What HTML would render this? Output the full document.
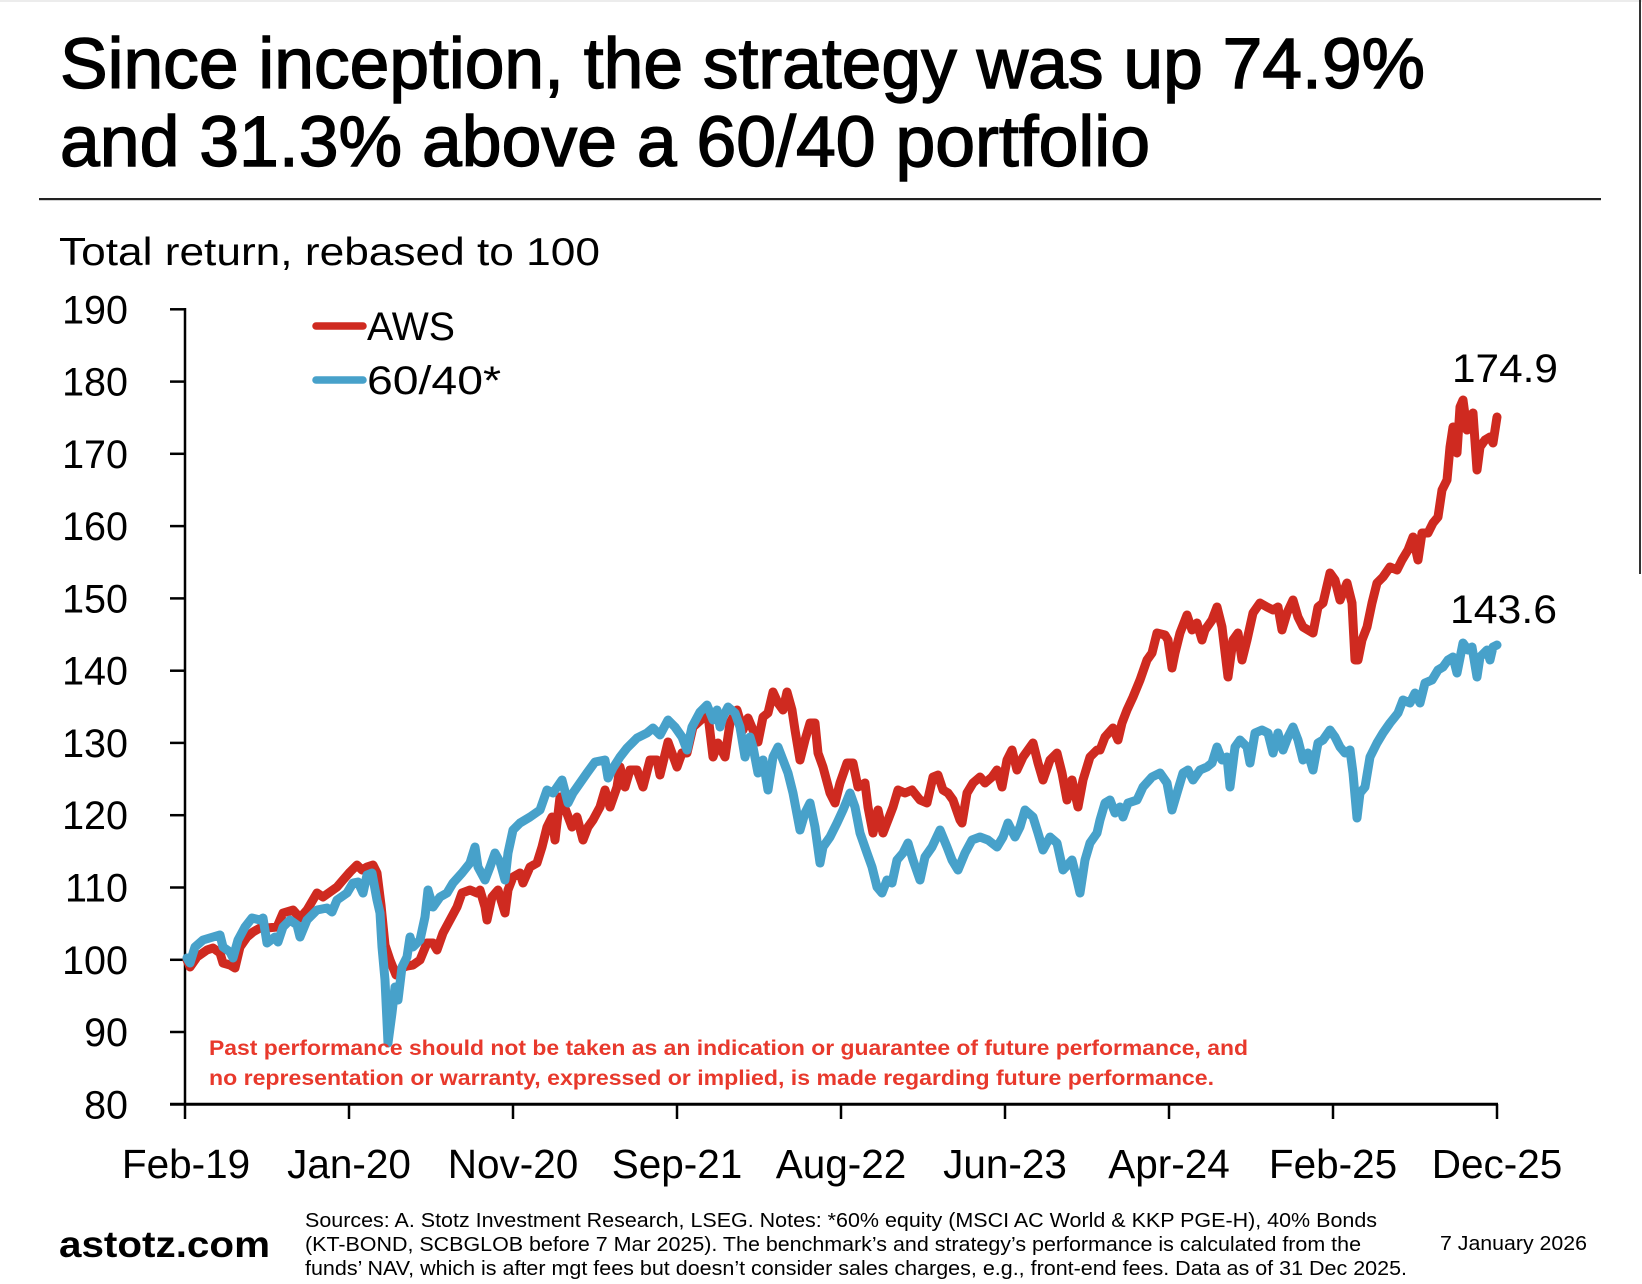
<!DOCTYPE html>
<html>
<head>
<meta charset="utf-8">
<style>
html,body{margin:0;padding:0;background:#fff;}
body{width:1642px;height:1284px;overflow:hidden;}
svg{display:block;}
</style>
</head>
<body>
<svg width="1642" height="1284" viewBox="0 0 1642 1284" xmlns="http://www.w3.org/2000/svg">
<rect x="0" y="0" width="1642" height="1284" fill="#ffffff"/>
<rect x="0" y="0" width="1642" height="2" fill="#ececec"/>
<rect x="1639" y="0" width="2" height="574" fill="#333"/>

<!-- Title -->
<g font-family="'Liberation Sans', Arial, sans-serif" font-size="71" fill="#000" stroke="#000" stroke-width="1.4">
<text x="60" y="88" textLength="1365" lengthAdjust="spacingAndGlyphs">Since inception, the strategy was up 74.9%</text>
<text x="60" y="166" textLength="1090" lengthAdjust="spacingAndGlyphs">and 31.3% above a 60/40 portfolio</text>
</g>
<rect x="39" y="198" width="1562" height="2.2" fill="#222"/>

<text x="59" y="265" font-family="'Liberation Sans', Arial, sans-serif" font-size="39" textLength="541" lengthAdjust="spacingAndGlyphs" fill="#000">Total return, rebased to 100</text>

<!-- Y axis -->
<g stroke="#000" stroke-width="2.5" fill="none">
<line x1="185" y1="308" x2="185" y2="1105"/>
<line x1="170" y1="309.3" x2="185" y2="309.3"/>
<line x1="170" y1="381.6" x2="185" y2="381.6"/>
<line x1="170" y1="453.8" x2="185" y2="453.8"/>
<line x1="170" y1="526.1" x2="185" y2="526.1"/>
<line x1="170" y1="598.4" x2="185" y2="598.4"/>
<line x1="170" y1="670.7" x2="185" y2="670.7"/>
<line x1="170" y1="742.9" x2="185" y2="742.9"/>
<line x1="170" y1="815.2" x2="185" y2="815.2"/>
<line x1="170" y1="887.5" x2="185" y2="887.5"/>
<line x1="170" y1="959.8" x2="185" y2="959.8"/>
<line x1="170" y1="1032" x2="185" y2="1032"/>
</g>
<g font-family="'Liberation Sans', Arial, sans-serif" font-size="39.5" fill="#000" text-anchor="end">
<text x="128" y="323.3">190</text>
<text x="128" y="395.6">180</text>
<text x="128" y="467.8">170</text>
<text x="128" y="540.1">160</text>
<text x="128" y="612.4">150</text>
<text x="128" y="684.7">140</text>
<text x="128" y="756.9">130</text>
<text x="128" y="829.2">120</text>
<text x="128" y="901.5">110</text>
<text x="128" y="973.8">100</text>
<text x="128" y="1046">90</text>
<text x="128" y="1118.3">80</text>
</g>

<!-- X axis -->
<g stroke="#000" stroke-width="3" fill="none">
<line x1="170" y1="1104.3" x2="1498" y2="1104.3"/>
</g>
<g stroke="#000" stroke-width="2.5" fill="none">
<line x1="185" y1="1104" x2="185" y2="1119"/>
<line x1="349" y1="1104" x2="349" y2="1119"/>
<line x1="513" y1="1104" x2="513" y2="1119"/>
<line x1="677" y1="1104" x2="677" y2="1119"/>
<line x1="841" y1="1104" x2="841" y2="1119"/>
<line x1="1005" y1="1104" x2="1005" y2="1119"/>
<line x1="1169" y1="1104" x2="1169" y2="1119"/>
<line x1="1333" y1="1104" x2="1333" y2="1119"/>
<line x1="1497" y1="1104" x2="1497" y2="1119"/>
</g>
<g font-family="'Liberation Sans', Arial, sans-serif" font-size="40.5" fill="#000" text-anchor="middle">
<text x="186" y="1178">Feb-19</text>
<text x="349" y="1178">Jan-20</text>
<text x="513" y="1178">Nov-20</text>
<text x="677" y="1178">Sep-21</text>
<text x="841" y="1178">Aug-22</text>
<text x="1005" y="1178">Jun-23</text>
<text x="1169" y="1178">Apr-24</text>
<text x="1333" y="1178">Feb-25</text>
<text x="1497" y="1178">Dec-25</text>
</g>

<!-- Series -->
<polyline fill="none" stroke="#CF2A20" stroke-width="9" stroke-linejoin="round" stroke-linecap="round" points="
187,960 190,967 197,957 207,950 213,948 220,953 223,963 230,965 235,968 240,947 247,937 253,932 260,928 267,928 277,927 283,913 293,910 300,918 307,910 317,893 323,897 330,892 337,887 343,880 350,872 357,865 362,870 367,867 373,865 377,873 381,905 385,945 390,960 396,975 402,968 407,966 413,965 420,960 427,943 433,943 437,950 443,933 450,920 457,907 462,893 470,890 477,893 480,890 485,907 487,920 492,897 498,890 505,913 508,890 513,877 520,873 523,883 530,867 537,863 542,847 547,827 552,817 555,840 560,797 563,803 572,827 577,817 583,840 588,827 593,820 600,807 605,790 610,807 617,787
620,767 625,787 630,770 637,770 643,787 650,760 657,760 660,775 668,742 677,767 682,753 687,753 693,727 703,718 708,715 713,757 718,743 725,757 730,723 737,710 743,730 748,718 753,730 758,742 763,717 768,713 773,692 778,703 783,710 787,692 792,710 795,730 800,760 805,740 810,723 815,723 818,753 823,767 830,793 835,803 840,783 847,763 853,763 858,787 865,783 868,807 873,833 878,810 883,833 888,820 893,807 898,790 905,793 912,790 920,800 927,803 933,777 938,775 943,790 948,793 953,800 960,820 962,823 967,793 973,783 980,777 985,783 992,777 997,770 1002,787 1007,760 1012,750 1017,770 1023,757 1033,743 1038,763 1043,780 1050,760 1057,753 1062,773 1067,800 1072,780 1078,807 1083,780 1090,757 1097,750
1100,750 1105,737 1113,728 1118,740 1122,723 1127,710 1133,697 1140,680 1147,660 1152,653 1157,633 1165,635 1168,640 1172,668 1175,653 1180,633 1187,615 1192,630 1197,623 1202,640 1205,630 1212,620 1217,607 1222,627 1228,677 1233,640 1238,633 1242,660 1247,640 1253,613 1260,603 1267,607 1273,610 1278,607 1282,630 1287,613 1293,600 1298,617 1303,627 1308,630 1313,633 1318,607 1323,603 1330,573 1335,580 1340,600 1347,583 1352,603 1355,660 1358,660 1362,640 1367,627 1372,603 1377,583 1383,577 1390,567 1397,570 1402,560 1408,550 1413,537 1418,560 1422,533 1428,533 1433,523 1438,517 1442,490 1447,480 1450,447 1453,427 1457,453 1460,407 1463,400 1467,430 1470,417 1473,413 1477,470 1480,447 1485,440 1490,437 1493,443 1497,417"/>

<polyline fill="none" stroke="#47A1CA" stroke-width="9" stroke-linejoin="round" stroke-linecap="round" points="
187,958 190,963 195,947 203,940 213,937 220,935 223,947 230,952 233,958 238,940 245,927 252,918 260,920 263,918 267,943 275,937 278,942 283,927 290,920 297,925 300,937 307,920 317,910 327,908 332,912 337,900 347,893 353,883 358,882 363,893 367,875 372,873 377,900 380,913 382,947 385,980 388,1043 392,1013 395,987 398,1000 402,967 407,957 410,937 413,947 420,940 425,917 428,890 433,907 440,897 447,893 453,883 462,873 470,863 475,847 478,867 485,880 490,867 495,853 500,862 505,880 508,853 513,830 520,823 530,817 540,810 547,790 553,793 562,780 568,803 573,793 580,783 587,773 595,762 605,760 608,778 613,768
620,757 627,748 637,738 647,733 653,728 660,735 668,720 675,727 682,737 687,750 692,727 700,712 707,705 713,720 717,710 720,727 723,717 728,707 735,713 740,727 745,757 750,737 753,747 758,773 763,760 768,790 773,757 778,747 783,760 788,773 793,793 800,830 805,813 810,803 815,827 820,863 823,847 830,837 837,823 843,810 850,793 855,807 860,833 867,853 872,867 877,887 882,893 887,880 892,883 897,860 903,853 908,843 913,860 920,880 925,857 932,847 940,830 947,847 952,860 958,870 965,853 972,840 980,837 988,840 997,847 1003,837 1008,823 1015,837 1020,827 1025,810 1033,817 1038,833 1043,850 1050,837 1057,843 1063,870 1072,860 1077,880 1080,893 1085,860 1090,843 1097,833
1100,820 1105,803 1110,800 1115,813 1120,807 1123,817 1128,803 1137,800 1143,787 1152,777 1160,773 1167,783 1172,810 1177,793 1183,773 1188,770 1193,780 1200,770 1207,767 1212,763 1217,747 1222,760 1227,757 1230,787 1235,747 1240,740 1247,747 1250,763 1255,733 1262,730 1268,733 1273,753 1278,733 1283,750 1288,737 1293,727 1298,740 1303,760 1308,753 1313,770 1318,743 1323,740 1330,730 1335,737 1340,747 1345,753 1350,750 1353,773 1357,818 1360,793 1365,787 1370,757 1377,743 1383,733 1390,723 1398,713 1403,700 1410,703 1415,693 1420,703 1425,683 1432,680 1438,670 1443,667 1448,660 1453,657 1457,673 1463,643 1468,650 1472,647 1477,677 1480,657 1487,650 1490,660 1493,647 1497,645"/>

<!-- Legend -->
<line x1="316" y1="326" x2="363" y2="326" stroke="#CF2A20" stroke-width="7.5" stroke-linecap="round"/>
<line x1="316" y1="380" x2="363" y2="380" stroke="#47A1CA" stroke-width="7.5" stroke-linecap="round"/>
<g font-family="'Liberation Sans', Arial, sans-serif" font-size="39.5" fill="#000">
<text x="367" y="340" textLength="88" lengthAdjust="spacingAndGlyphs">AWS</text>
<text x="367" y="394" textLength="134" lengthAdjust="spacingAndGlyphs">60/40*</text>
<text x="1452" y="382" textLength="106" lengthAdjust="spacingAndGlyphs">174.9</text>
<text x="1450" y="623" textLength="107" lengthAdjust="spacingAndGlyphs">143.6</text>
</g>

<!-- Disclaimer -->
<g font-family="'Liberation Sans', Arial, sans-serif" font-size="21" font-weight="bold" fill="#E8392C">
<text x="209" y="1055" textLength="1039" lengthAdjust="spacingAndGlyphs">Past performance should not be taken as an indication or guarantee of future performance, and</text>
<text x="209" y="1085" textLength="1005" lengthAdjust="spacingAndGlyphs">no representation or warranty, expressed or implied, is made regarding future performance.</text>
</g>

<!-- Footer -->
<text x="59" y="1257" font-family="'Liberation Sans', Arial, sans-serif" font-size="37" font-weight="bold" fill="#000" textLength="211" lengthAdjust="spacingAndGlyphs">astotz.com</text>
<g font-family="'Liberation Sans Narrow', 'Liberation Sans', Arial, sans-serif" font-size="20" fill="#000">
<text x="305" y="1227" textLength="1072" lengthAdjust="spacingAndGlyphs">Sources: A. Stotz Investment Research, LSEG. Notes: *60% equity (MSCI AC World &amp; KKP PGE-H), 40% Bonds</text>
<text x="305" y="1251" textLength="1056" lengthAdjust="spacingAndGlyphs">(KT-BOND, SCBGLOB before 7 Mar 2025). The benchmark’s and strategy’s performance is calculated from the</text>
<text x="305" y="1275" textLength="1102" lengthAdjust="spacingAndGlyphs">funds’ NAV, which is after mgt fees but doesn’t consider sales charges, e.g., front-end fees. Data as of 31 Dec 2025.</text>
<text x="1440" y="1250" textLength="147" lengthAdjust="spacingAndGlyphs">7 January 2026</text>
</g>
</svg>
</body>
</html>
